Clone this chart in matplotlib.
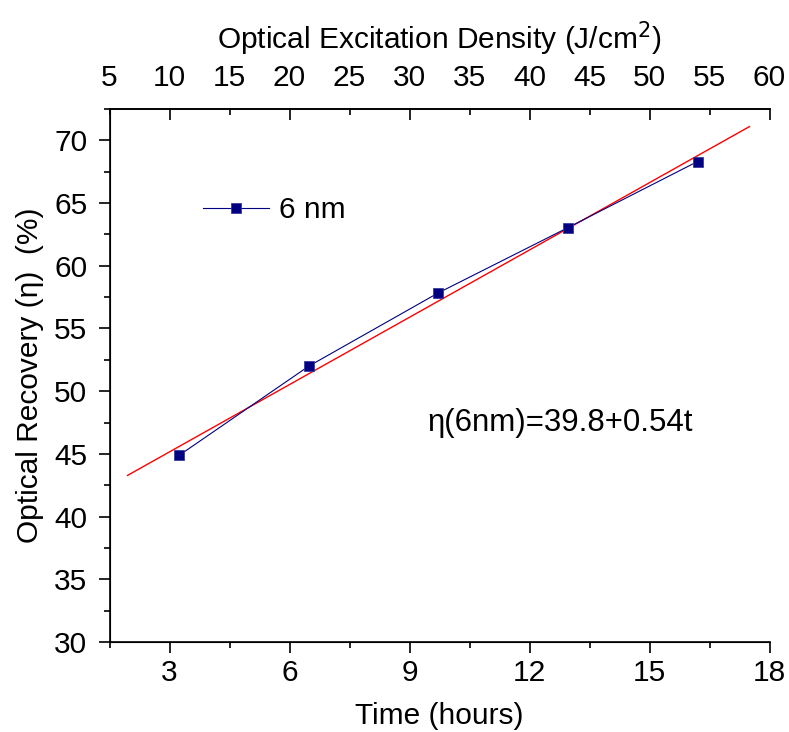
import numpy as np
import matplotlib
matplotlib.use('Agg')
import matplotlib.pyplot as plt
from matplotlib.ticker import MultipleLocator

# data
time_hours = [3.24, 6.48, 9.71, 12.96, 16.20]
recovery_6nm = [44.88, 51.99, 57.82, 63.04, 68.31]

# linear fit, drawn as a straight segment
fit_t = [1.95, 17.5]
fit_y = [43.28, 71.1]

top_major = [10, 20, 30, 40, 50, 60]
top_minor = [5, 15, 25, 35, 45, 55]

FS = 21.5

plt.rcParams['font.family'] = ['Liberation Sans', 'DejaVu Sans']

fig = plt.figure(figsize=(7.89, 7.32), dpi=100)
ax = fig.add_axes([0.1388, 0.1230, 0.8365, 0.7281])

ax.plot(fit_t, fit_y, color='red', lw=1.0, zorder=2)
ax.plot(time_hours, recovery_6nm, color='#000080', lw=0.8, marker='s',
        markersize=7.5, markerfacecolor='#000080', markeredgecolor='#3a3aa0',
        markeredgewidth=0.6, label='6 nm', zorder=3)

ax.set_xlim(1.5, 18)
ax.set_ylim(30, 72.5)
ax.xaxis.set_major_locator(MultipleLocator(3))
ax.xaxis.set_minor_locator(MultipleLocator(1.5))
ax.yaxis.set_major_locator(MultipleLocator(5))
ax.yaxis.set_minor_locator(MultipleLocator(2.5))

ax.spines['right'].set_visible(False)
for s in ['left', 'bottom', 'top']:
    ax.spines[s].set_linewidth(1.2)

ax.tick_params(axis='x', which='major', direction='out', length=8, width=1.2,
               labelsize=FS, pad=4)
ax.tick_params(axis='x', which='minor', direction='out', length=4.5, width=1.2)
ax.tick_params(axis='y', which='major', direction='out', length=8, width=1.2,
               labelsize=FS, pad=8)
ax.tick_params(axis='y', which='minor', direction='out', length=4.5, width=1.2)

ax.set_xlabel('Time (hours)', fontsize=FS, labelpad=11)
ax.set_ylabel('Optical Recovery (\u03b7)  (%)', fontsize=FS, labelpad=7)

# top axis: optical excitation density
ax2 = ax.twiny()
ax2.set_xlim(5, 60)
ax2.spines['right'].set_visible(False)
ax2.spines['top'].set_linewidth(1.2)
ax2.set_xticks(top_major)
ax2.set_xticklabels([str(v) for v in top_major])
ax2.set_xticks(top_minor, minor=True)
ax2.set_xticklabels([str(v) for v in top_minor], minor=True)
ax2.tick_params(axis='x', which='major', direction='in', length=8, width=1.2,
                labelsize=FS, pad=12)
ax2.tick_params(axis='x', which='minor', direction='in', length=4.5, width=1.2,
                labelsize=FS, pad=12)
ax2.set_xlabel('Optical Excitation Density (J/cm$^2$)', fontsize=FS, labelpad=11)

ax.legend(loc='upper left', bbox_to_anchor=(0.142, 0.836), frameon=False,
          fontsize=FS, handlelength=2.2, handletextpad=0.35,
          borderaxespad=0, borderpad=0)

ax.text(0.482, 0.41, '\u03b7(6nm)=39.8+0.54t', transform=ax.transAxes,
        fontsize=22.5, ha='left', va='center')

fig.savefig('out.png', dpi=100)
